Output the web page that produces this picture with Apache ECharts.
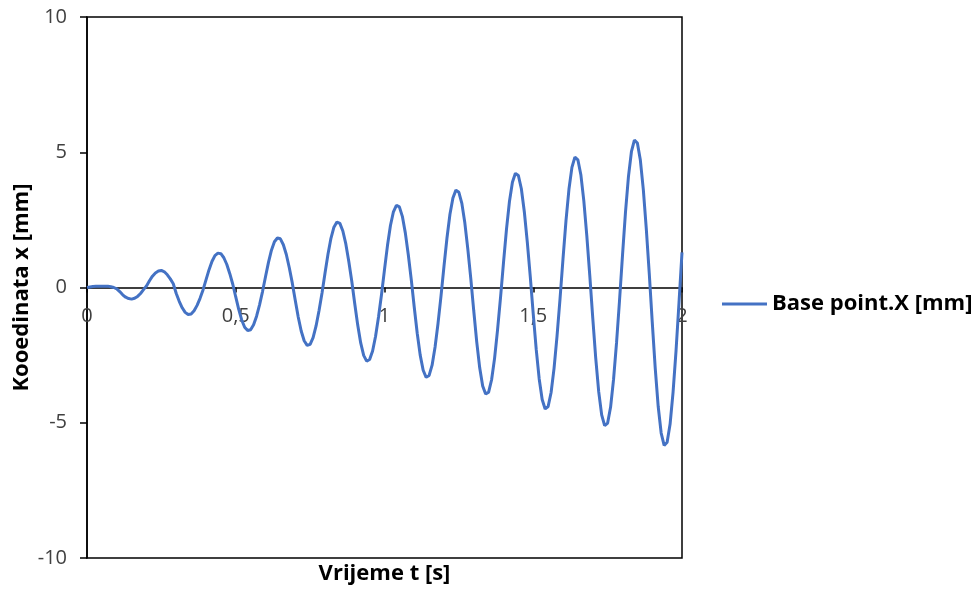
<!DOCTYPE html>
<html>
<head>
<meta charset="utf-8">
<script src="https://cdn.jsdelivr.net/npm/echarts@6/dist/echarts.min.js"></script>
<style>
  html, body { margin: 0; padding: 0; background: #fff; }
  #chart { width: 976px; height: 596px; }
</style>
</head>
<body>
<div id="chart"></div>
<script>
// Sampling step of the recorded signal [s]
const timeStep = 0.01;

// Base point X displacement [mm], one value every 0.01 s, rows of 0.1 s
const baseX_0_0 = [0.00, 0.02, 0.04, 0.05, 0.05, 0.05, 0.05, 0.05, 0.03, 0.00];
const baseX_0_1 = [-0.05, -0.15, -0.27, -0.36, -0.41, -0.43, -0.40, -0.33, -0.22, -0.08];
const baseX_0_2 = [0.06, 0.25, 0.42, 0.54, 0.61, 0.63, 0.58, 0.47, 0.32, 0.14];
const baseX_0_3 = [-0.22, -0.51, -0.75, -0.92, -1.00, -0.98, -0.86, -0.66, -0.40, -0.09];
const baseX_0_4 = [0.28, 0.65, 0.96, 1.18, 1.27, 1.25, 1.10, 0.85, 0.51, 0.12];
const baseX_0_5 = [-0.35, -0.81, -1.20, -1.47, -1.59, -1.56, -1.38, -1.06, -0.64, -0.15];
const baseX_0_6 = [0.40, 0.93, 1.38, 1.69, 1.83, 1.80, 1.58, 1.22, 0.73, 0.17];
const baseX_0_7 = [-0.47, -1.09, -1.61, -1.97, -2.14, -2.10, -1.85, -1.42, -0.85, -0.20];
const baseX_0_8 = [0.53, 1.23, 1.82, 2.23, 2.42, 2.37, 2.09, 1.61, 0.96, 0.23];
const baseX_0_9 = [-0.60, -1.39, -2.05, -2.51, -2.72, -2.66, -2.35, -1.80, -1.08, -0.26];
const baseX_1_0 = [0.66, 1.55, 2.29, 2.80, 3.04, 2.98, 2.63, 2.02, 1.21, 0.29];
const baseX_1_1 = [-0.73, -1.69, -2.50, -3.06, -3.32, -3.25, -2.87, -2.20, -1.32, -0.31];
const baseX_1_2 = [0.79, 1.83, 2.71, 3.31, 3.60, 3.52, 3.11, 2.39, 1.43, 0.34];
const baseX_1_3 = [-0.86, -2.01, -2.97, -3.64, -3.94, -3.87, -3.41, -2.62, -1.57, -0.37];
const baseX_1_4 = [0.92, 2.15, 3.18, 3.89, 4.22, 4.14, 3.65, 2.80, 1.68, 0.40];
const baseX_1_5 = [-0.98, -2.29, -3.38, -4.14, -4.49, -4.40, -3.88, -2.98, -1.79, -0.42];
const baseX_1_6 = [1.06, 2.46, 3.63, 4.44, 4.82, 4.72, 4.17, 3.20, 1.92, 0.45];
const baseX_1_7 = [-1.12, -2.61, -3.85, -4.71, -5.11, -5.01, -4.42, -3.39, -2.04, -0.48];
const baseX_1_8 = [1.19, 2.78, 4.10, 5.02, 5.45, 5.34, 4.71, 3.62, 2.17, 0.51];
const baseX_1_9 = [-1.28, -2.98, -4.40, -5.38, -5.84, -5.72, -5.05, -3.87, -2.33, -0.55];
const baseX_2_0 = [1.30];

// Axis tick labels (comma decimal separator)
const xTickLabels = { '0': '0', '0.5': '0,5', '1': '1', '1.5': '1,5', '2': '2' };
const yTickValues = [-10, -5, 0, 5, 10];

const seriesName = 'Base point.X [mm]';
const xTitle = 'Vrijeme t [s]';
const yTitle = 'Kooedinata x [mm]';

const baseX = [].concat(
  baseX_0_0, baseX_0_1, baseX_0_2, baseX_0_3, baseX_0_4,
  baseX_0_5, baseX_0_6, baseX_0_7, baseX_0_8, baseX_0_9,
  baseX_1_0, baseX_1_1, baseX_1_2, baseX_1_3, baseX_1_4,
  baseX_1_5, baseX_1_6, baseX_1_7, baseX_1_8, baseX_1_9,
  baseX_2_0
);
const seriesData = baseX.map((v, i) => [+(i * timeStep).toFixed(2), v]);

const FONT = '"Open Sans", "Liberation Sans", sans-serif';
const LINE_BLUE = '#4472C4';
const GRID = { left: 87, right: 294, top: 17, bottom: 38 };
const WIDTH = 976, HEIGHT = 596;
const plotMidX = GRID.left + (WIDTH - GRID.left - GRID.right) / 2;
const plotMidY = GRID.top + (HEIGHT - GRID.top - GRID.bottom) / 2;

const chart = echarts.init(document.getElementById('chart'), null, { renderer: 'canvas' });

function buildOption(xAxisOffset) {
  return {
    animation: false,
    backgroundColor: '#ffffff',
    grid: Object.assign({
      show: true, borderColor: '#000', borderWidth: 1.5, backgroundColor: 'transparent',
      containLabel: false, outerBoundsMode: 'none'
    }, GRID),
    legend: {
      data: [{ name: seriesName, icon: 'rect' }],
      left: 722, top: 293, padding: 0,
      itemWidth: 45, itemHeight: 3, itemGap: 10,
      itemStyle: { color: LINE_BLUE },
      textStyle: { fontFamily: FONT, fontWeight: 'bold', fontSize: 22, color: '#000' }
    },
    graphic: [
      {
        // time axis title, centred under the plot area
        type: 'text', x: plotMidX, y: 563,
        style: { text: xTitle, font: 'bold 22px ' + FONT, fill: '#000', align: 'center', verticalAlign: 'top' }
      },
      {
        // displacement axis title, rotated, left of the tick labels
        type: 'text', x: 22, y: plotMidY, rotation: Math.PI / 2,
        style: { text: yTitle, font: 'bold 22px ' + FONT, fill: '#000', align: 'center', verticalAlign: 'middle' }
      }
    ],
    xAxis: {
      type: 'value', min: 0, max: 2, interval: 0.5,
      position: 'bottom', offset: xAxisOffset,
      axisLine: { onZero: false, lineStyle: { color: '#000', width: 1.5 } },
      axisTick: { show: true, inside: false, length: 5, lineStyle: { color: '#000', width: 1.5 } },
      axisLabel: {
        margin: 19, fontFamily: FONT, fontSize: 20, color: '#404040',
        formatter: v => xTickLabels[String(v)] ?? String(v)
      },
      splitLine: { show: false }
    },
    yAxis: {
      type: 'value', min: yTickValues[0], max: yTickValues[yTickValues.length - 1], interval: 5,
      axisLine: { onZero: false, lineStyle: { color: '#000', width: 1.5 } },
      axisTick: { show: true, inside: false, length: 7, lineStyle: { color: '#000', width: 1.5 } },
      axisLabel: { margin: 20, fontFamily: FONT, fontSize: 20, color: '#404040' },
      splitLine: { show: false }
    },
    series: [{
      name: seriesName,
      type: 'line',
      data: seriesData,
      symbol: 'none',
      smooth: false,
      lineStyle: { color: LINE_BLUE, width: 3 },
      itemStyle: { color: LINE_BLUE },
      z: 3
    }]
  };
}

// first pass to resolve the y scale, then lift the time axis onto y = 0
chart.setOption(buildOption(0));
const zeroY = chart.convertToPixel({ yAxisIndex: 0 }, 0);
const bottomY = HEIGHT - GRID.bottom;
chart.setOption(buildOption(-(bottomY - zeroY)), true);
</script>
</body>
</html>
